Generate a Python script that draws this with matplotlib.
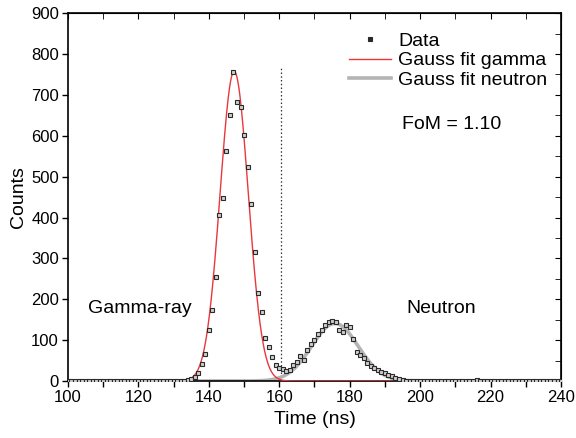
import numpy as np
import matplotlib
matplotlib.use("Agg")
import matplotlib.pyplot as plt
from matplotlib.ticker import MultipleLocator

plt.rcParams['font.family'] = ['Liberation Sans', 'DejaVu Sans']

# ---- data ----
time_ns = np.arange(100, 241)  # 1 ns bins
counts = [
    # 100-132
    0, 0, 0, 0, 0, 0, 0, 0, 0, 0, 0, 0, 0, 0, 0, 0, 0, 0, 0, 0,
    0, 0, 0, 0, 0, 0, 0, 0, 0, 0, 0, 0, 0,
    # 133-159
    1, 3, 5, 10, 19, 41, 66, 125, 175, 255, 407, 447, 563, 650, 755,
    682, 670, 601, 524, 434, 316, 215, 170, 106, 83, 59, 40,
    # 160-196
    32, 30, 25, 28, 39, 47, 62, 52, 75, 90, 100, 114, 124, 138, 144,
    148, 144, 124, 120, 136, 133, 103, 71, 63, 57, 45, 36, 31, 27,
    23, 19, 16, 12, 8, 5, 2, 1,
    # 197-240
    0, 0, 0, 0, 0, 0, 0, 0, 0, 0, 0, 0, 0, 0, 0, 0, 0, 0, 0, 2,
    0, 0, 0, 0, 0, 0, 0, 0, 0, 0, 0, 0, 0, 0, 0, 0, 0, 0, 0, 0,
    0, 0, 0, 0,
]

# Gaussian fit parameters (amplitude, centre, sigma) and drawn range
gamma_fit = dict(amp=758, mu=147.2, sigma=4.0, t0=133, t1=194)
neutron_fit = dict(amp=141, mu=175.8, sigma=6.6, t0=100, t1=240)

cut_time = 160.5
cut_top = 770
fom_text = "FoM = 1.10"


def gauss(t, p):
    return p['amp'] * np.exp(-(t - p['mu']) ** 2 / (2 * p['sigma'] ** 2))


fig = plt.figure(figsize=(5.76, 4.38), dpi=100)
ax = fig.add_axes([0.118, 0.130, 0.856, 0.840])

tn = np.linspace(neutron_fit['t0'], neutron_fit['t1'], 800)
tg = np.linspace(gamma_fit['t0'], gamma_fit['t1'], 800)

ax.plot(time_ns, counts, linestyle='none', marker='s', ms=3.0,
        mfc='#cfcfcf', mec='#2a2a2a', mew=0.8, zorder=4, label='Data')
ax.plot(tg, gauss(tg, gamma_fit), color='#e8383d', lw=1.0, zorder=3,
        label='Gauss fit gamma')
ax.plot(tn, gauss(tn, neutron_fit), color='#b4b4b4', lw=2.6, zorder=2,
        label='Gauss fit neutron')

ax.plot([cut_time, cut_time], [0, cut_top], color='#333333', lw=0.9,
        linestyle=(0, (1.2, 1.8)), zorder=1)

ax.set_xlim(100, 240)
ax.set_ylim(0, 900)
ax.xaxis.set_major_locator(MultipleLocator(20))
ax.xaxis.set_minor_locator(MultipleLocator(10))
ax.yaxis.set_major_locator(MultipleLocator(100))
ax.yaxis.set_minor_locator(MultipleLocator(50))

ax.tick_params(axis='both', which='both', labelsize=12, width=1.0,
               color='black', length=4, direction='out', pad=2.5)
ax.tick_params(axis='y', which='minor', left=False)
ax.tick_params(axis='x', which='both', top=False)
ax.tick_params(axis='y', which='both', right=False)

# inward ticks on top / right
axt = ax.secondary_xaxis('top')
axt.xaxis.set_major_locator(MultipleLocator(20))
axt.xaxis.set_minor_locator(MultipleLocator(10))
axt.tick_params(which='both', direction='in', length=4, labeltop=False)
axr = ax.secondary_yaxis('right')
axr.yaxis.set_major_locator(MultipleLocator(100))
axr.yaxis.set_minor_locator(MultipleLocator(50))
axr.tick_params(which='both', direction='in', length=4, labelright=False)

for sp in ax.spines.values():
    sp.set_linewidth(1.2)

ax.set_xlabel('Time (ns)', fontsize=14, labelpad=4)
ax.set_ylabel('Counts', fontsize=14, labelpad=3)

ax.text(120.5, 177, 'Gamma-ray', fontsize=14, ha='center', va='center')
ax.text(206, 177, 'Neutron', fontsize=14, ha='center', va='center')
ax.text(209, 628, fom_text, fontsize=14, ha='center', va='center')

leg = ax.legend(loc='upper right', bbox_to_anchor=(1.0, 0.985), frameon=False,
                fontsize=14, handlelength=2.2, handletextpad=0.35,
                labelspacing=0.1, borderaxespad=0.3)
leg.legend_handles[0].set_markersize(3)
leg.legend_handles[0].set_markerfacecolor('#2a2a2a')

fig.savefig('out.png', dpi=100)
